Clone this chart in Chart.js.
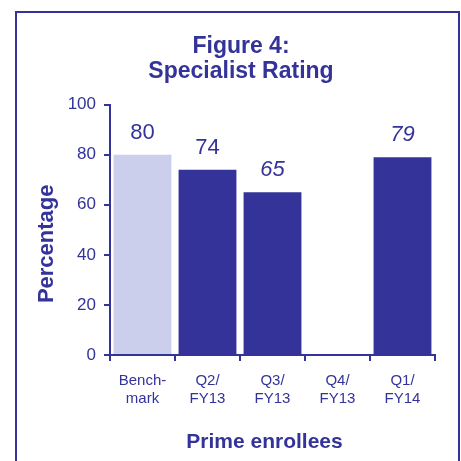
<!DOCTYPE html>
<html>
<head>
<meta charset="utf-8">
<script src="https://cdn.jsdelivr.net/npm/chart.js@4"></script>
<style>
  body { margin: 0; background: #fff; }
  #caja { position: relative; width: 461px; height: 461px; }
  #marco { position: absolute; left: 15px; top: 11px; width: 441px; height: 470px; border: 2px solid #333399; }
  #grafico { position: absolute; left: 0; top: 0; }
</style>
</head>
<body>
<div id="caja">
  <div id="marco"></div>
  <canvas id="grafico" width="461" height="461"></canvas>
</div>
<script>
// datos del grafico
const categorias = [['Bench-', 'mark'], ['Q2/', 'FY13'], ['Q3/', 'FY13'], ['Q4/', 'FY13'], ['Q1/', 'FY14']]
const valores = [80, 74, 65, null, 79]
const etiquetas = ['80', '74', '65', '', '79']
const etiquetaCursiva = [false, false, true, false, true]
const ticksY = [0, 20, 40, 60, 80, 100]
const tituloY = 'Percentage'
const tituloX = 'Prime enrollees'

const AZUL = '#333399'
const LILA = '#CCCFEB'
const FUENTE = "'Liberation Sans', Arial, sans-serif"

// plugin para escribir los valores encima de las barras y los titulos de ejes
const etiquetasBarras = {
    id: 'etiquetasBarras',
    afterDatasetsDraw(chart) {
        const ctx = chart.ctx
        const area = chart.chartArea
        const meta = chart.getDatasetMeta(0)
        ctx.save()
        ctx.fillStyle = AZUL
        ctx.textAlign = 'center'
        ctx.textBaseline = 'middle'
        meta.data.forEach((barra, i) => {
            if (valores[i] === null) return
            ctx.font = (etiquetaCursiva[i] ? 'italic ' : '') + '22px ' + FUENTE
            ctx.fillText(etiquetas[i], barra.x, barra.y - 22)
        })

        // titulo eje x
        ctx.font = 'bold 21px ' + FUENTE
        ctx.fillText(tituloX, (area.left + area.right) / 2 - 8, 442)

        // titulo eje y (rotado)
        ctx.translate(47, (area.top + area.bottom) / 2 + 14)
        ctx.rotate(-Math.PI / 2)
        ctx.font = 'bold 22px ' + FUENTE
        ctx.fillText(tituloY, 0, 0)
        ctx.restore()
    }
}

const ctx = document.getElementById('grafico').getContext('2d')
new Chart(ctx, {
    type: 'bar',
    data: {
        labels: categorias,
        datasets: [{
            data: valores,
            backgroundColor: valores.map((v, i) => i === 0 ? LILA : AZUL),
            borderWidth: 0,
            barPercentage: 0.89,
            categoryPercentage: 1
        }]
    },
    options: {
        responsive: false,
        animation: false,
        layout: { padding: { left: 47, right: 26, top: 0, bottom: 0 } },
        plugins: {
            legend: { display: false },
            tooltip: { enabled: false },
            title: {
                display: true,
                text: ['Figure 4:', 'Specialist Rating'],
                color: AZUL,
                font: { family: FUENTE, size: 23, weight: 'bold', lineHeight: 1.1 },
                padding: { top: 34, bottom: 20 }
            }
        },
        scales: {
            x: {
                grid: { display: true, drawOnChartArea: false, drawTicks: true, tickLength: 6, color: AZUL, lineWidth: 2, offset: true },
                border: { color: AZUL, width: 2 },
                ticks: { color: AZUL, font: { family: FUENTE, size: 15 }, padding: 11, maxRotation: 0 },
                afterFit(scale) { scale.height = 106 }
            },
            y: {
                min: 0,
                max: 100,
                afterBuildTicks(scale) { scale.ticks = ticksY.map(v => ({ value: v })) },
                grid: { display: true, drawOnChartArea: false, drawTicks: true, tickLength: 6, color: AZUL, lineWidth: 2 },
                border: { color: AZUL, width: 2 },
                ticks: { color: AZUL, font: { family: FUENTE, size: 17 }, padding: 8 },
                afterFit(scale) { scale.width = 63 }
            }
        }
    },
    plugins: [etiquetasBarras]
})
</script>
</body>
</html>
